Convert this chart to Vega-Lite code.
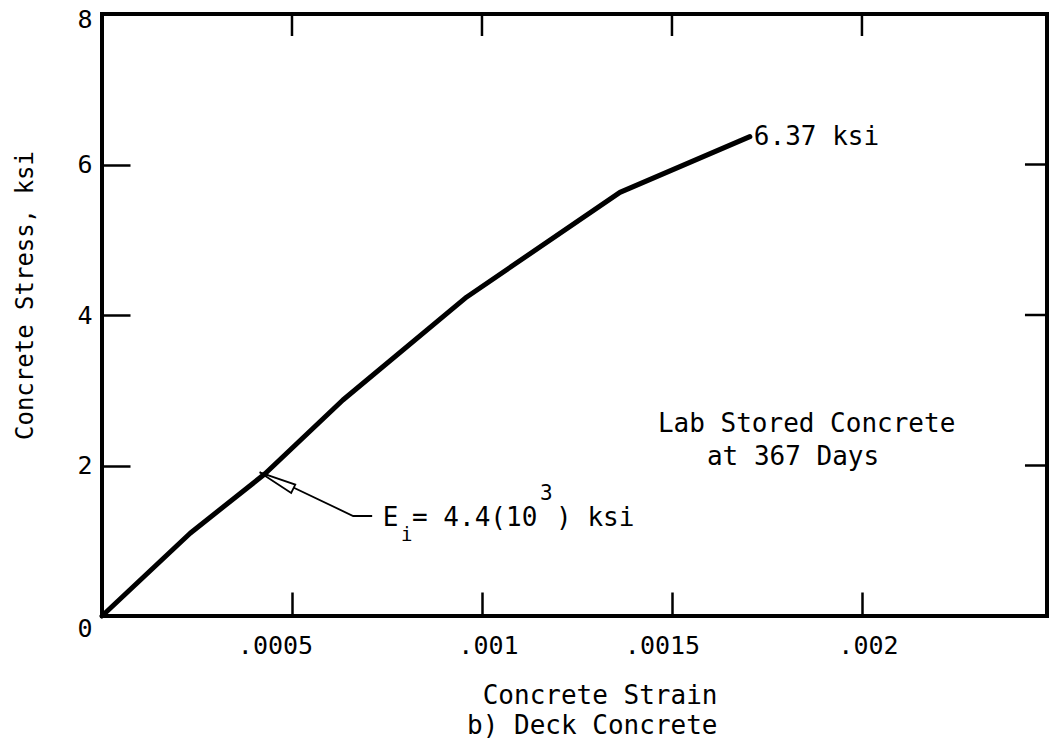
{
  "$schema": "https://vega.github.io/schema/vega-lite/v6.json",
  "width": 945,
  "height": 602,
  "autosize": "none",
  "padding": {"left": 102, "top": 14, "right": 5, "bottom": 130},
  "background": "white",
  "config": {
    "view": {"stroke": "black", "strokeWidth": 4},
    "font": "DejaVu Sans Mono",
    "text": {"font": "DejaVu Sans Mono", "color": "black"}
  },
  "datasets": {
    "curve": [
      {"strain": 0, "stress": 0},
      {"strain": 0.000232, "stress": 1.10},
      {"strain": 0.000429, "stress": 1.89},
      {"strain": 0.000634, "stress": 2.87},
      {"strain": 0.00096, "stress": 4.24},
      {"strain": 0.001363, "stress": 5.63},
      {"strain": 0.001705, "stress": 6.37}
    ],
    "xticks": [{"strain": 0.0005}, {"strain": 0.001}, {"strain": 0.0015}, {"strain": 0.002}],
    "yticks": [{"stress": 2}, {"stress": 4}, {"stress": 6}],
    "arrow": [
      {"strain": 0.000429, "stress": 1.887, "o": 1},
      {"strain": 0.000661, "stress": 1.329, "o": 2},
      {"strain": 0.000711, "stress": 1.329, "o": 3}
    ]
  },
  "layer": [
    {
      "data": {"name": "curve"},
      "mark": {"type": "line", "color": "black", "strokeWidth": 5, "strokeCap": "round", "strokeJoin": "round"},
      "encoding": {
        "x": {
          "field": "strain", "type": "quantitative",
          "scale": {"domain": [0, 0.002487], "nice": false, "zero": false},
          "axis": {
            "values": [0.0005, 0.001, 0.0015, 0.002],
            "labelExpr": "substring(format(datum.value, '.4~f'), 1)",
            "domain": false, "grid": false,
            "tickSize": -24, "tickWidth": 2.5, "tickColor": "black",
            "labelFontSize": 25, "labelPadding": 41, "labelColor": "black", "labelFont": "DejaVu Sans Mono",
            "labelOffset": {"condition": [{"test": "datum.value == 0.0005", "value": -17}, {"test": "datum.value == 0.0015", "value": -10}], "value": 6},
            "title": ["Concrete Strain", "b) Deck Concrete"],
            "titleFont": "DejaVu Sans Mono", "titleFontSize": 26, "titleFontWeight": "normal", "titleColor": "black",
            "titleX": 615, "titleY": 87, "titleAlign": "right", "titleBaseline": "alphabetic", "titleLineHeight": 30
          }
        },
        "y": {
          "field": "stress", "type": "quantitative",
          "scale": {"domain": [0, 8], "nice": false},
          "axis": {
            "values": [0, 2, 4, 6, 8],
            "format": "d",
            "domain": false, "grid": false,
            "tickSize": -28, "tickWidth": 2.5, "tickColor": "black",
            "labelFontSize": 25, "labelPadding": 38, "labelColor": "black", "labelFont": "DejaVu Sans Mono",
            "labelBaseline": {"condition": {"test": "datum.value == 0", "value": "top"}, "value": "middle"},
            "labelOffset": {"condition": {"test": "datum.value == 8", "value": 5}, "value": 0},
            "title": "Concrete Stress, ksi",
            "titleFont": "DejaVu Sans Mono", "titleFontSize": 24, "titleFontWeight": "normal", "titleColor": "black",
            "titleX": -77, "titleY": 281, "titleAngle": -90, "titleAlign": "center", "titleBaseline": "middle"
          }
        }
      }
    },
    {
      "data": {"name": "xticks"},
      "mark": {"type": "rule", "color": "black", "strokeWidth": 2.5},
      "encoding": {
        "x": {"field": "strain", "type": "quantitative"},
        "y": {"datum": 8},
        "y2": {"datum": 7.708}
      }
    },
    {
      "data": {"name": "yticks"},
      "mark": {"type": "rule", "color": "black", "strokeWidth": 2.5},
      "encoding": {
        "y": {"field": "stress", "type": "quantitative"},
        "x": {"datum": 0.002487},
        "x2": {"datum": 0.002429}
      }
    },
    {
      "data": {"name": "arrow"},
      "mark": {"type": "line", "color": "black", "strokeWidth": 1.8},
      "encoding": {
        "x": {"field": "strain", "type": "quantitative"},
        "y": {"field": "stress", "type": "quantitative"},
        "order": {"field": "o"}
      }
    },
    {
      "data": {"values": [{}]},
      "mark": {"type": "point", "shape": "M0,-1L0.25,1L-0.25,1Z", "size": 1400, "angle": 296, "filled": true, "fill": "white", "stroke": "black", "strokeWidth": 1.8, "opacity": 1},
      "encoding": {"x": {"datum": 0.000459}, "y": {"datum": 1.8}}
    },
    {
      "data": {"values": [{}]},
      "mark": {"type": "text", "fontSize": 26, "align": "left", "baseline": "middle", "dx": 4, "text": "6.37 ksi"},
      "encoding": {"x": {"datum": 0.001705}, "y": {"datum": 6.37}}
    },
    {
      "data": {"values": [{}]},
      "mark": {"type": "text", "fontSize": 26, "align": "left", "baseline": "alphabetic", "text": "Lab Stored Concrete"},
      "encoding": {"x": {"datum": 0.001463}, "y": {"datum": 2.445}}
    },
    {
      "data": {"values": [{}]},
      "mark": {"type": "text", "fontSize": 26, "align": "left", "baseline": "alphabetic", "text": "at 367 Days"},
      "encoding": {"x": {"datum": 0.001592}, "y": {"datum": 2.007}}
    },
    {
      "data": {"values": [{}]},
      "mark": {"type": "text", "fontSize": 26, "align": "left", "baseline": "alphabetic", "text": "E"},
      "encoding": {"x": {"datum": 0.000739}, "y": {"datum": 1.196}}
    },
    {
      "data": {"values": [{}]},
      "mark": {"type": "text", "fontSize": 19, "align": "left", "baseline": "alphabetic", "text": "i"},
      "encoding": {"x": {"datum": 0.000787}, "y": {"datum": 0.997}}
    },
    {
      "data": {"values": [{}]},
      "mark": {"type": "text", "fontSize": 26, "align": "left", "baseline": "alphabetic", "text": "= 4.4(10"},
      "encoding": {"x": {"datum": 0.000816}, "y": {"datum": 1.196}}
    },
    {
      "data": {"values": [{}]},
      "mark": {"type": "text", "fontSize": 21, "align": "left", "baseline": "alphabetic", "text": "3"},
      "encoding": {"x": {"datum": 0.001153}, "y": {"datum": 1.54}}
    },
    {
      "data": {"values": [{}]},
      "mark": {"type": "text", "fontSize": 26, "align": "left", "baseline": "alphabetic", "text": ") ksi"},
      "encoding": {"x": {"datum": 0.001195}, "y": {"datum": 1.196}}
    }
  ]
}
